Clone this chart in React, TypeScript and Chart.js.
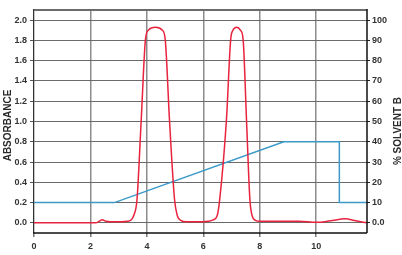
import React, { useEffect, useRef } from "react";
import { Chart, registerables } from "chart.js";

Chart.register(...registerables);

// Absorbance trace (time in min, absorbance)
const absTime = [0, 1, 2.2, 2.3, 2.42, 2.55, 2.7, 3.1, 3.3, 3.45, 3.53, 3.65, 3.8, 3.95, 4.05, 4.31, 4.55, 4.65, 4.8, 4.98, 5.08, 5.2, 5.4, 6.0, 6.17, 6.35, 6.49, 6.58, 6.82, 6.97, 7.05, 7.18, 7.32, 7.41, 7.53, 7.65, 7.73, 7.85, 8.0, 9.4, 10.0, 10.5, 11.03, 11.4, 11.8];
const absValues = [0, 0, 0, 0.015, 0.03, 0.015, 0.01, 0.01, 0.015, 0.03, 0.07, 0.23, 1.02, 1.81, 1.9, 1.93, 1.9, 1.81, 1.02, 0.23, 0.07, 0.025, 0.01, 0.01, 0.015, 0.03, 0.07, 0.23, 1.02, 1.81, 1.9, 1.93, 1.9, 1.81, 1.02, 0.23, 0.07, 0.025, 0.015, 0.015, 0.005, 0.02, 0.04, 0.02, 0];

// Gradient (% solvent B)
const gradTime = [0, 2.85, 8.85, 10.82, 10.82, 11.8];
const gradValues = [10, 10, 40, 40, 10, 10];

const xTickStep = 2;
const absTickStep = 0.2;
const solventTickStep = 10;

const leftTitle = "ABSORBANCE";
const rightTitle = "% SOLVENT B";

const tickFont = { family: "'Liberation Sans Narrow', 'Liberation Sans', Arial, sans-serif", size: 9, weight: "bold" as const };

export default function App() {
  const ref = useRef<HTMLCanvasElement | null>(null);
  useEffect(() => {
    if (!ref.current) return;
    const frame = {
      id: "frame",
      afterDraw(chart: any) {
        const { ctx, chartArea: a } = chart;
        ctx.save();
        // top border
        ctx.strokeStyle = "#6b6b6b";
        ctx.lineWidth = 2;
        ctx.beginPath();
        ctx.moveTo(a.left, a.top + 1);
        ctx.lineTo(a.right, a.top + 1);
        ctx.stroke();
        // left
        ctx.strokeStyle = "#333";
        ctx.lineWidth = 1;
        ctx.beginPath();
        ctx.moveTo(a.left - 0.5, a.top);
        ctx.lineTo(a.left - 0.5, a.bottom);
        ctx.stroke();
        // bottom & right
        ctx.strokeStyle = "#111";
        ctx.lineWidth = 1.5;
        ctx.beginPath();
        ctx.moveTo(a.left - 1, a.bottom);
        ctx.lineTo(a.right, a.bottom);
        ctx.moveTo(a.right, a.top);
        ctx.lineTo(a.right, a.bottom);
        ctx.stroke();
        // titles
        ctx.fillStyle = "#2a2a2a";
        ctx.font = "bold 10px 'Liberation Sans', Arial, sans-serif";
        ctx.textAlign = "center";
        ctx.textBaseline = "middle";
        ctx.translate(8.5, 125.5);
        ctx.rotate(-Math.PI / 2);
        ctx.fillText(leftTitle, 0, 0);
        ctx.setTransform(1, 0, 0, 1, 0, 0);
        ctx.translate(398, 131);
        ctx.rotate(-Math.PI / 2);
        ctx.fillText(rightTitle, 0, 0);
        ctx.restore();
      },
    };
    const chart = new Chart(ref.current, {
      type: "line",
      data: {
        datasets: [
          {
            label: "Absorbance",
            data: absTime.map((t, i) => ({ x: t, y: absValues[i] })),
            borderColor: "#e8233d",
            borderWidth: 1.5,
            pointRadius: 0,
            cubicInterpolationMode: "monotone",
            yAxisID: "y",
          },
          {
            label: "Solvent B",
            data: gradTime.map((t, i) => ({ x: t, y: gradValues[i] })),
            borderColor: "#3b9ac8",
            borderWidth: 1.5,
            pointRadius: 0,
            tension: 0,
            yAxisID: "y2",
          },
        ],
      },
      options: {
        animation: false,
        responsive: false,
        layout: { padding: { top: 9, left: 0, right: 0, bottom: 0 } },
        plugins: { legend: { display: false }, tooltip: { enabled: false } },
        scales: {
          x: {
            type: "linear",
            min: 0,
            max: 11.8,
            border: { display: false },
            ticks: { stepSize: xTickStep, includeBounds: false, font: tickFont, color: "#333", padding: 4, maxRotation: 0 },
            grid: { color: "#8c8c8c", lineWidth: 1.5, tickLength: 4, tickColor: "#777" },
            afterFit(s: any) { s.height = 22; },
          },
          y: {
            position: "left",
            min: -0.1,
            max: 2.11,
            border: { display: false },
            ticks: {
              stepSize: absTickStep,
              includeBounds: false,
              font: tickFont,
              color: "#333",
              padding: 3,
              callback: (v: any) => Number(v).toFixed(1),
            },
            grid: { color: "#6a6a6a", lineWidth: 1, tickLength: 4, tickColor: "#555" },
            afterFit(s: any) { s.width = 34; },
          },
          y2: {
            position: "right",
            min: -5,
            max: 105.5,
            border: { display: false },
            ticks: {
              stepSize: solventTickStep,
              includeBounds: false,
              font: tickFont,
              color: "#333",
              padding: 2,
              callback: (v: any) => (Number(v) === 0 ? "0.0" : String(v)),
            },
            grid: { drawOnChartArea: false, color: "#222", tickLength: 3 },
            afterFit(s: any) { s.width = 35; },
          },
        },
      },
      plugins: [frame],
    } as any);
    return () => chart.destroy();
  }, []);
  return (
    <div style={{ position: "absolute", left: 0, top: 0, width: 402, height: 255, background: "#fff" }}>
      <canvas ref={ref} width={402} height={255} style={{ width: 402, height: 255, display: "block" }} />
    </div>
  );
}
